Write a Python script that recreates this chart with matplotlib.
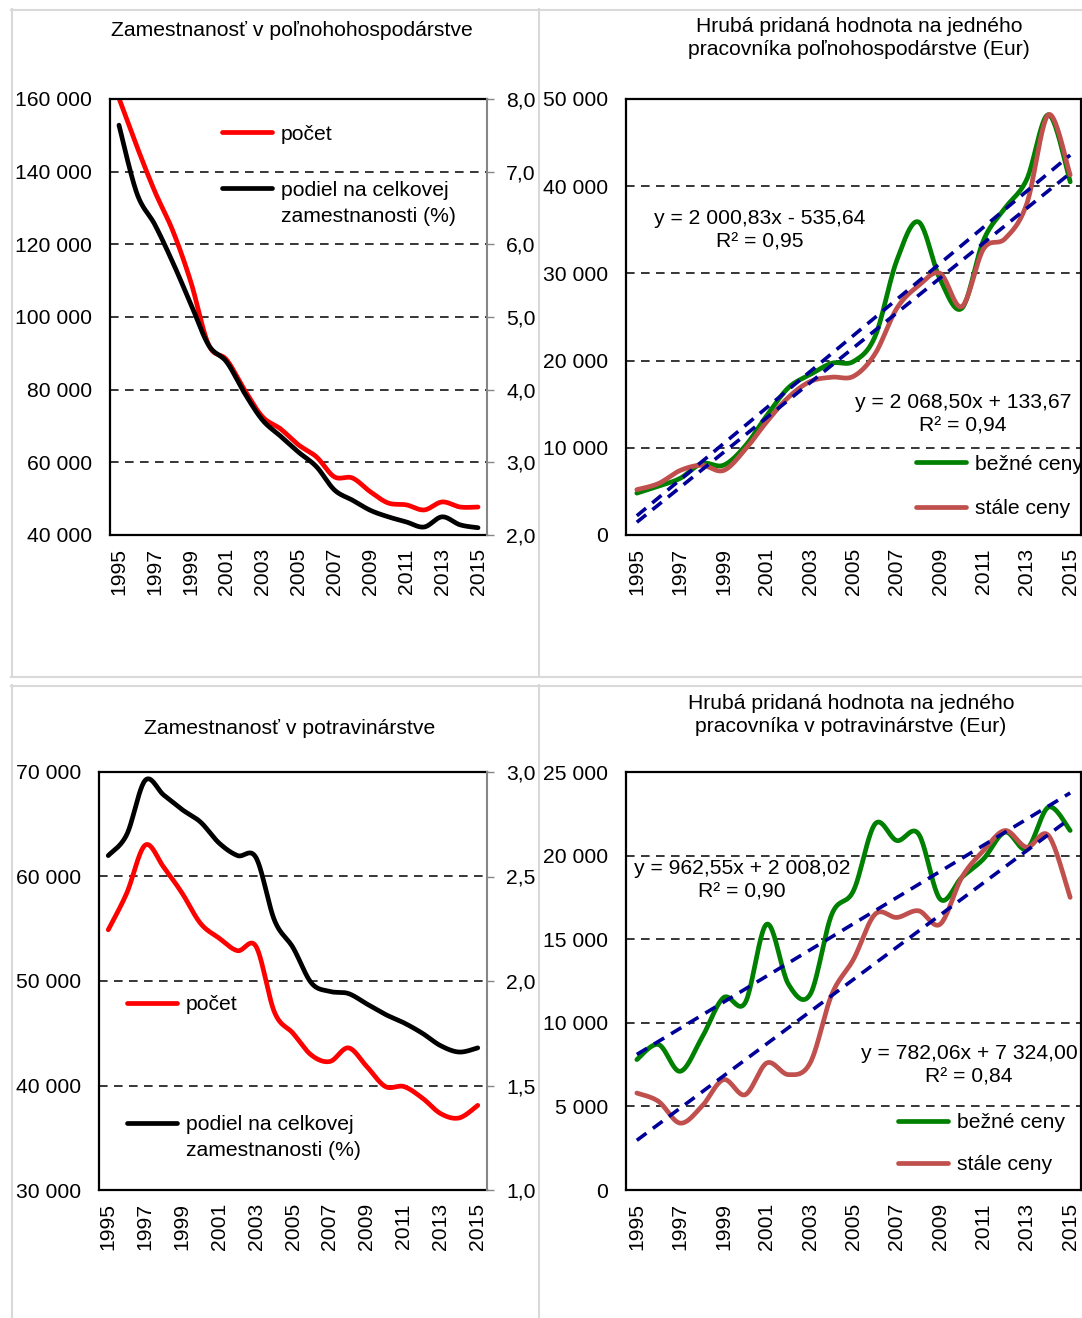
"""
Zamestnanosť a hrubá pridaná hodnota - poľnohospodárstvo a potravinárstvo.
Four Excel-like panels, smoothed lines, secondary axes and trend lines.
"""

import numpy as np
import matplotlib
matplotlib.use('Agg')
import matplotlib.pyplot as plt
from matplotlib.legend import Legend
from matplotlib.lines import Line2D
from matplotlib.ticker import FuncFormatter

plt.rcParams['font.family'] = ['Liberation Sans', 'DejaVu Sans']
plt.rcParams['lines.scale_dashes'] = False

# ---------------- data ----------------
years = list(range(1995, 2016))

# Zamestnanosť v poľnohospodárstve
pol_pocet = [160200, 146900, 134500, 123700, 109700, 92300, 88200, 79900, 72500, 69200,
             64800, 61500, 56000, 55700, 51900, 48800, 48300, 46900, 49100, 47700, 47700]
pol_podiel = [7.64, 6.70, 6.27, 5.75, 5.18, 4.61, 4.38, 3.95, 3.58, 3.36,
              3.14, 2.94, 2.62, 2.48, 2.34, 2.25, 2.18, 2.11, 2.25, 2.14, 2.10]

# HPH na pracovníka poľnohospodárstva (Eur)
pol_bezne = [4800, 5600, 6500, 8200, 8000, 10200, 13700, 16900, 18400, 19700,
             19900, 22800, 31500, 35900, 29300, 26000, 33800, 37500, 40800, 48200, 40500]
pol_stale = [5200, 5900, 7400, 8000, 7400, 9800, 13000, 15800, 17600, 18100,
             18200, 20800, 26000, 28600, 30000, 26200, 32800, 34000, 38000, 48200, 41300]
pol_trend_bezne = (2068.50, 133.67, 0.94)
pol_trend_stale = (2000.83, -535.64, 0.95)

# Zamestnanosť v potravinárstve
pot_pocet = [54900, 58400, 63000, 60900, 58400, 55500, 54100, 52900, 53300, 47000,
             45000, 42900, 42300, 43600, 41800, 39900, 39900, 38800, 37300, 36900, 38100]
pot_podiel = [2.60, 2.70, 2.96, 2.89, 2.82, 2.76, 2.66, 2.60, 2.59, 2.29,
              2.16, 1.99, 1.95, 1.94, 1.89, 1.84, 1.80, 1.75, 1.69, 1.66, 1.68]

# HPH na pracovníka v potravinárstve (Eur)
pot_bezne = [7800, 8700, 7100, 9100, 11500, 11200, 15900, 12300, 11700, 16500,
             17900, 21900, 20900, 21300, 17400, 18700, 19800, 21400, 20400, 22900, 21500]
pot_stale = [5800, 5300, 4000, 5000, 6600, 5700, 7600, 6900, 7600, 11700,
             13800, 16500, 16300, 16700, 15900, 18700, 20300, 21500, 20500, 21200, 17500]
pot_trend_bezne = (782.06, 7324.00, 0.84)
pot_trend_stale = (962.55, 2008.02, 0.90)

# ---------------- figure ----------------
W, H = 1082, 1318
FS = 15.2
fig = plt.figure(figsize=(W / 100, H / 100), dpi=100)
fig.patch.set_facecolor('white')

RED = '#FF0000'
GREEN = '#008000'
BROWN = '#C0504D'
NAVY = '#000099'
GRAY = '#868686'
LW = 3.4


def px_axes(l, t, r, b):
    return fig.add_axes([l / W, 1 - b / H, (r - l) / W, (b - t) / H])


def fx(x):
    return x / W


def fy(y):
    return 1 - y / H


def smooth(vals, n=24):
    # Excel-like smoothed line (Catmull-Rom as cubic Bezier)
    pts = np.column_stack([np.arange(len(vals)), np.asarray(vals, float)])
    P = np.vstack([pts[0], pts, pts[-1]])
    t = np.linspace(0, 1, n, endpoint=False)[:, None]
    out = []
    for i in range(1, len(P) - 2):
        p0, p1, p2, p3 = P[i - 1], P[i], P[i + 1], P[i + 2]
        c1 = p1 + (p2 - p0) / 6
        c2 = p2 - (p3 - p1) / 6
        out.append((1 - t) ** 3 * p1 + 3 * (1 - t) ** 2 * t * c1
                   + 3 * (1 - t) * t ** 2 * c2 + t ** 3 * p2)
    out.append(pts[-1:])
    return np.vstack(out)


def thousands(v, _=None):
    return f'{v:,.0f}'.replace(',', ' ')


def one_dec(v, _=None):
    return f'{v:.1f}'.replace('.', ',')


def num2(v):
    return f'{v:,.2f}'.replace(',', ' ').replace('.', ',')


def trend_label(a, b, r2):
    sign = '+' if b >= 0 else '-'
    return f'y = {num2(a)}x {sign} {num2(abs(b))}\nR² = {r2:.2f}'.replace('.', ',')


def style_xaxis(ax):
    ax.set_xlim(-0.5, len(years) - 0.5)
    ax.set_xticks(range(0, len(years), 2))
    ax.set_xticklabels([str(y) for y in years[::2]], rotation=90)
    ax.tick_params(axis='x', length=0, pad=9.4, labelsize=FS)


def style_left(ax, lo, hi, step):
    ax.set_ylim(lo, hi)
    ax.set_yticks(np.arange(lo, hi + step / 2, step))
    ax.yaxis.set_major_formatter(FuncFormatter(thousands))
    ax.tick_params(axis='y', length=0, pad=13, labelsize=FS)
    ax.yaxis.grid(True, color='black', lw=1.1, ls=(0, (6.2, 4.6)))
    ax.set_axisbelow(True)
    for s in ['left', 'top', 'bottom', 'right']:
        ax.spines[s].set_color('black')
        ax.spines[s].set_linewidth(1.6)


def add_key(ax, line, label, x, y, extra=None):
    leg = Legend(ax, [line], [label], loc='center left',
                 bbox_to_anchor=(fx(x), fy(y)), bbox_transform=fig.transFigure,
                 frameon=False, borderpad=0, borderaxespad=0,
                 handlelength=2.35, handletextpad=0.45, fontsize=FS)
    ax.add_artist(leg)
    if extra:
        ax.annotate(extra, xy=(0, 0), xycoords=leg.get_texts()[0],
                    xytext=(0, -7), textcoords='offset pixels',
                    va='top', ha='left', fontsize=FS, zorder=6)


def employment_panel(rect, pocet, podiel, lims, rlims, keys, title, title_xy):
    ax = px_axes(*rect)
    ax2 = ax.twinx()
    l1, = ax.plot(*smooth(pocet).T, color=RED, lw=LW,
                  solid_capstyle='round', solid_joinstyle='round')
    l2, = ax2.plot(*smooth(podiel).T, color='black', lw=LW,
                   solid_capstyle='round', solid_joinstyle='round')
    style_xaxis(ax)
    style_left(ax, *lims)
    ax.spines['right'].set_visible(False)
    ax2.set_ylim(rlims[0], rlims[1])
    ax2.set_yticks(np.arange(rlims[0], rlims[1] + rlims[2] / 2, rlims[2]))
    ax2.yaxis.set_major_formatter(FuncFormatter(one_dec))
    ax2.tick_params(axis='y', length=5.3, width=1, color=GRAY, pad=8.6, labelsize=FS)
    for s in ['left', 'top', 'bottom']:
        ax2.spines[s].set_visible(False)
    ax2.spines['right'].set_color(GRAY)
    ax2.spines['right'].set_linewidth(1.5)
    add_key(ax2, l1, 'počet', keys[0], keys[1])
    add_key(ax2, l2, 'podiel na celkovej', keys[0], keys[2], 'zamestnanosti (%)')
    fig.text(fx(title_xy[0]), fy(title_xy[1]), title, ha='center', va='center', fontsize=FS)
    return ax


def gva_panel(rect, bezne, stale, lims, trends, labels_xy, keys, title, title_xy):
    ax = px_axes(*rect)
    x = np.arange(len(years))
    l1, = ax.plot(*smooth(bezne).T, color=GREEN, lw=LW,
                  solid_capstyle='round', solid_joinstyle='round', zorder=3)
    l2, = ax.plot(*smooth(stale).T, color=BROWN, lw=LW,
                  solid_capstyle='round', solid_joinstyle='round', zorder=3)
    for (a, b, r2), (tx, ty) in zip(trends, labels_xy):
        ax.plot(x, a * (x + 1) + b, color=NAVY, lw=2.6, ls=(0, (8.6, 5.8)), zorder=4)
        fig.text(fx(tx), fy(ty), trend_label(a, b, r2), ha='center', va='center',
                 fontsize=FS, linespacing=1.3)
    style_xaxis(ax)
    style_left(ax, *lims)
    add_key(ax, l1, 'bežné ceny', keys[0], keys[1])
    add_key(ax, l2, 'stále ceny', keys[0], keys[2])
    fig.text(fx(title_xy[0]), fy(title_xy[1]), title, ha='center', va='center',
             fontsize=FS, linespacing=1.3)
    return ax


employment_panel((110, 99, 487, 535), pol_pocet, pol_podiel,
                 (40000, 160000, 20000), (2, 8, 1), (222, 134, 190),
                 'Zamestnanosť v poľnohohospodárstve', (292, 31))

gva_panel((626, 99, 1081, 535), pol_bezne, pol_stale, (0, 50000, 10000),
          [pol_trend_stale, pol_trend_bezne], [(760, 230), (963, 414)],
          (916, 464, 509),
          'Hrubá pridaná hodnota na jedného\npracovníka poľnohospodárstve (Eur)', (859, 38))

employment_panel((99, 772, 487, 1190), pot_pocet, pot_podiel,
                 (30000, 70000, 10000), (1, 3, 0.5), (127, 1005, 1125),
                 'Zamestnanosť v potravinárstve', (290, 728))

gva_panel((626, 772, 1081, 1190), pot_bezne, pot_stale, (0, 25000, 5000),
          [pot_trend_stale, pot_trend_bezne], [(742, 880), (969, 1065)],
          (898, 1123, 1165),
          'Hrubá pridaná hodnota na jedného\npracovníka v potravinárstve (Eur)', (851, 715))

# light gray chart-area borders
border = dict(color='#D9D9D9', lw=1.5, transform=fig.transFigure)
for (x0, y0, x1, y1) in [(11, 9.5, W, 9.5), (11, 676.5, W, 676.5), (11, 685.5, W, 685.5),
                         (11.5, 9, 11.5, 677), (11.5, 685, 11.5, H),
                         (539, 9, 539, 677), (539, 685, 539, H)]:
    fig.add_artist(Line2D([fx(x0), fx(x1)], [fy(y0), fy(y1)], **border))

plt.savefig('out.png', dpi=100, facecolor='white')
plt.close()
